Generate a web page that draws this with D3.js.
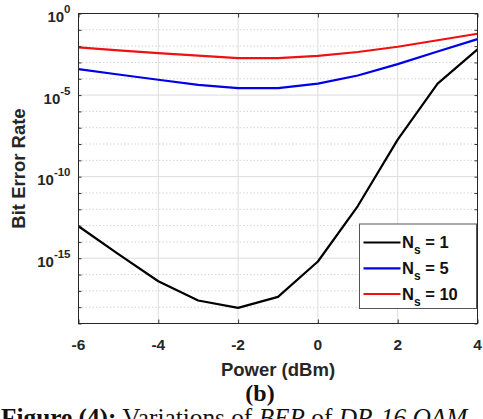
<!DOCTYPE html>
<html><head><meta charset="utf-8">
<script src="https://cdn.jsdelivr.net/npm/d3@7"></script>
<style>
html,body{margin:0;padding:0;background:#fff;}
svg{display:block;}
</style></head>
<body>
<svg id="c" width="483" height="419"></svg>
<script>
// ---- data ----
const powers = [-6, -5, -4, -3, -2, -1, 0, 1, 2, 3, 4];
// BER values (log10 exponents)
const berNs1  = [-13.04, -14.75, -16.41, -17.59, -18.04, -17.37, -15.2, -11.8, -7.73, -4.3, -2.2];
const berNs5  = [-3.41, -3.74, -4.06, -4.37, -4.57, -4.57, -4.3, -3.8, -3.1, -2.33, -1.57];
const berNs10 = [-2.08, -2.26, -2.43, -2.58, -2.73, -2.73, -2.6, -2.36, -2.04, -1.64, -1.24];
const seriesNames = ["1", "5", "10"];
const seriesColors = ["#000000", "#0000e6", "#ee1111"];
const xTicks = [-6, -4, -2, 0, 2, 4];
const yTickExp = [0, -5, -10, -15];

const svg = d3.select("#c");
const L = 78.5, R = 477.5, T = 13.5, B = 323.5;
const x = d3.scaleLinear().domain([-6, 4]).range([L, R]);
const y = d3.scaleLog().domain([1e-19, 1]).range([B, T]);

const font = "'Liberation Sans', Arial, sans-serif";

// grid
const g = svg.append("g");
const minorExp = d3.range(-18, 0).filter(e => e % 5 !== 0);
g.selectAll(".mn").data(minorExp).enter().append("line")
  .attr("x1", L).attr("x2", R)
  .attr("y1", d => y(Math.pow(10, d))).attr("y2", d => y(Math.pow(10, d)))
  .attr("stroke", "#d4d4d4").attr("stroke-width", 1).attr("stroke-dasharray", "1.5,2");
g.selectAll(".mj").data(yTickExp.filter(e => e !== 0)).enter().append("line")
  .attr("x1", L).attr("x2", R)
  .attr("y1", d => y(Math.pow(10, d))).attr("y2", d => y(Math.pow(10, d)))
  .attr("stroke", "#dcdcdc").attr("stroke-width", 1);
g.selectAll(".vx").data(xTicks.slice(1, -1)).enter().append("line")
  .attr("y1", T).attr("y2", B)
  .attr("x1", d => x(d)).attr("x2", d => x(d))
  .attr("stroke", "#dcdcdc").attr("stroke-width", 1);

// series
const series = [berNs1, berNs5, berNs10];
const line = d3.line().x((d, i) => x(powers[i])).y(d => y(Math.pow(10, d)));
series.forEach((s, k) => {
  svg.append("path").datum(s).attr("d", line)
    .attr("fill", "none").attr("stroke", seriesColors[k]).attr("stroke-width", 2.2)
    .attr("stroke-linejoin", "round");
});

// axes (ticks inward)
const axB = svg.append("g").attr("transform", `translate(0,${B})`)
  .call(d3.axisBottom(x).tickValues(xTicks).tickSize(-4).tickFormat(""));
const axT = svg.append("g").attr("transform", `translate(0,${T})`)
  .call(d3.axisTop(x).tickValues(xTicks).tickSize(-4).tickFormat(""));
const allExp = d3.range(-19, 1);
const axL = svg.append("g").attr("transform", `translate(${L},0)`)
  .call(d3.axisLeft(y).tickValues(allExp.map(e => Math.pow(10, e))).tickSize(-3).tickFormat(""));
const axR = svg.append("g").attr("transform", `translate(${R},0)`)
  .call(d3.axisRight(y).tickValues(allExp.map(e => Math.pow(10, e))).tickSize(-3).tickFormat(""));
[axB, axT, axL, axR].forEach(a => {
  a.select(".domain").remove();
  a.selectAll(".tick line").attr("stroke", "#333");
});
svg.append("rect").attr("x", L).attr("y", T).attr("width", R - L).attr("height", B - T)
  .attr("fill", "none").attr("stroke", "#262626").attr("stroke-width", 1);

// x tick labels
svg.selectAll(".xl").data(xTicks).enter().append("text")
  .attr("x", d => x(d)).attr("y", B + 26)
  .attr("text-anchor", "middle").attr("font-family", font).attr("font-weight", "bold")
  .attr("font-size", 15.5).attr("fill", "#262626").text(d => d);

// y tick labels
yTickExp.forEach(e => {
  const yy = y(Math.pow(10, e));
  const t = svg.append("text").attr("x", L - 8).attr("y", yy + 8.5)
    .attr("text-anchor", "end").attr("font-family", font).attr("font-weight", "bold")
    .attr("font-size", 15).attr("fill", "#262626");
  t.append("tspan").text("10");
  t.append("tspan").attr("dy", -9).attr("font-size", 11.5).text(e);
});

// axis titles
svg.append("text").attr("x", (L + R) / 2).attr("y", 376)
  .attr("text-anchor", "middle").attr("font-family", font).attr("font-weight", "bold")
  .attr("font-size", 18.5).attr("fill", "#262626").text("Power (dBm)");
svg.append("text").attr("transform", `translate(25,${(T + B) / 2}) rotate(-90)`)
  .attr("text-anchor", "middle").attr("font-family", font).attr("font-weight", "bold")
  .attr("font-size", 18.5).attr("fill", "#262626").text("Bit Error Rate");

// legend
const lg = svg.append("g");
lg.append("rect").attr("x", 359.5).attr("y", 224).attr("width", 117).attr("height", 84.5)
  .attr("fill", "#fff").attr("stroke", "#555").attr("stroke-width", 1);
const rowY = [242.5, 268.3, 294];
seriesNames.forEach((n, k) => {
  lg.append("line").attr("x1", 363.5).attr("x2", 400.5).attr("y1", rowY[k]).attr("y2", rowY[k])
    .attr("stroke", seriesColors[k]).attr("stroke-width", 2.2);
  const t = lg.append("text").attr("x", 402).attr("y", rowY[k] + 5.5)
    .attr("font-family", font).attr("font-weight", "bold").attr("font-size", 16.5).attr("fill", "#111");
  t.append("tspan").text("N");
  t.append("tspan").attr("dy", 6).attr("font-size", 12).text("s");
  t.append("tspan").attr("dy", -6).text(" = " + n);
});

// caption
svg.append("text").attr("x", 260).attr("y", 401).attr("text-anchor", "middle")
  .attr("font-family", "'Liberation Serif', 'Times New Roman', serif").attr("font-weight", "bold")
  .attr("font-size", 24).attr("fill", "#111").text("(b)");
const cap = svg.append("text").attr("x", 1).attr("y", 425.5)
  .attr("font-family", "'Liberation Serif', 'Times New Roman', serif")
  .attr("font-size", 25.3).attr("fill", "#111");
cap.append("tspan").attr("font-weight", "bold").text("Figure (4):");
cap.append("tspan").text(" Variations of ");
cap.append("tspan").attr("font-style", "italic").text("BER");
cap.append("tspan").text(" of ");
cap.append("tspan").attr("font-style", "italic").text("DP-16 QAM");
</script>
</body></html>
